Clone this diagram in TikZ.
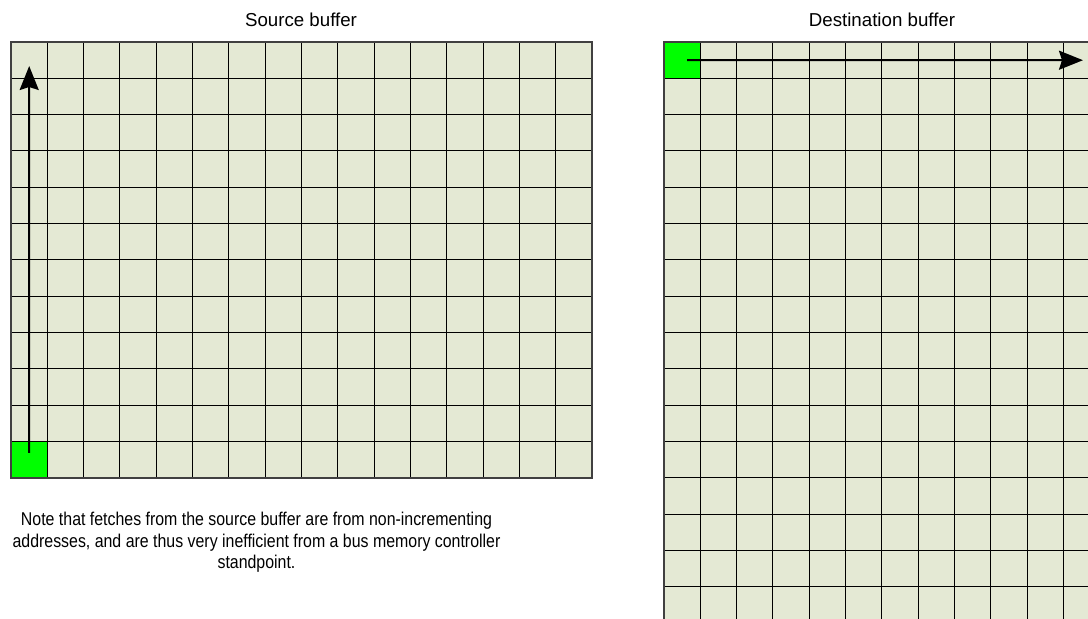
\documentclass[tikz,border=0pt]{standalone}
\usepackage{fontspec}
\setmainfont{Liberation Sans}
\newfontfamily\notefont[FakeStretch=0.86]{Liberation Sans}
\usetikzlibrary{arrows.meta}
\definecolor{cellfill}{HTML}{E4E9D4}
\definecolor{hot}{HTML}{00FF00}
\begin{document}
\begin{tikzpicture}[x=1pt,y=-1pt,
 cellgrid/.style={draw=black,line width=0.9pt},
 border/.style={draw=black!75,line width=1.4pt},
 hotcell/.style={fill=hot,draw=black,line width=1pt,minimum size=36.3125pt,inner sep=0pt,outer sep=0pt},
 arr/.style={line width=2pt,-{Stealth[length=24pt,width=19pt,inset=3pt]}},
 title/.style={font=\fontsize{18.7}{22}\selectfont,anchor=base,inner sep=0pt},
 note/.style={font=\notefont\fontsize{18.5}{21.5}\selectfont,align=center,anchor=base,inner sep=0pt},
 ]
\useasboundingbox (0,0) rectangle (1088,619);
\pgfmathsetmacro\cellw{581/16}
\begin{scope}
\clip (0,0) rectangle (1088,619);
% source buffer
\fill[cellfill] (11,42) rectangle (592,478);
\foreach \i in {1,...,15} \draw[cellgrid] (11+\i*\cellw,42) -- (11+\i*\cellw,478);
\foreach \j in {1,...,11} \draw[cellgrid] (11,42+\j*\cellw) -- (592,42+\j*\cellw);
\node[hotcell, anchor=south west] (sg) at (11,478) {};
\draw[border] (11,42) rectangle (592,478);
% destination buffer
\fill[cellfill] (664,42) rectangle (1100,623);
\foreach \i in {1,...,11} \draw[cellgrid] (664+\i*\cellw,42) -- (664+\i*\cellw,623);
\foreach \j in {1,...,15} \draw[cellgrid] (664,42+\j*\cellw) -- (1100,42+\j*\cellw);
\node[hotcell, anchor=north west] (dg) at (664,42) {};
\draw[border] (664,42) rectangle (1100,623);
\end{scope}
% arrows
\coordinate (stip) at (29.2,66);
\coordinate (dtip) at (1083,60.2);
\draw[arr] ([yshift=7pt]sg.center) -- (stip);
\draw[arr] ([xshift=5pt]dg.center) -- (dtip);
% texts
\node[title] (srct) at (301,26) {Source buffer};
\node[title] (dstt) at (882,26) {Destination buffer};
\node[note] (notetext) at (256.5,568.5) {Note that fetches from the source buffer are from non-incrementing\\addresses, and are thus very inefficient from a bus memory controller\\standpoint.};
\end{tikzpicture}
\end{document}
